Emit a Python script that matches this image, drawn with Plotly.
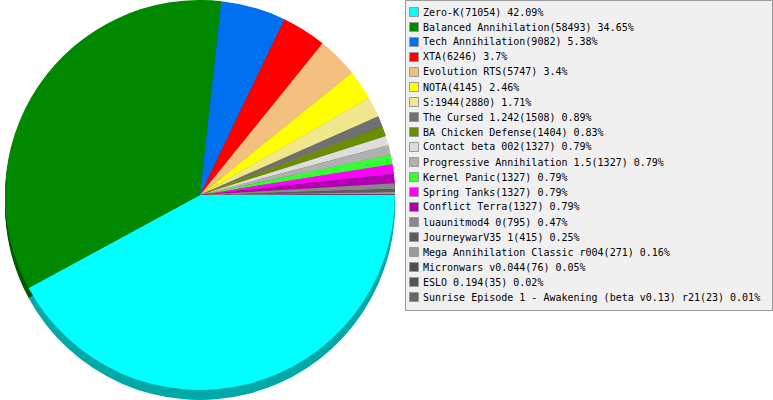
import plotly.graph_objects as go

W, H = 773, 400

names = ["Zero-K", "Balanced Annihilation", "Tech Annihilation", "XTA", "Evolution RTS",
         "NOTA", "S:1944", "The Cursed 1.242", "BA Chicken Defense", "Contact beta 002",
         "Progressive Annihilation 1.5", "Kernel Panic", "Spring Tanks", "Conflict Terra",
         "luaunitmod4 0", "JourneywarV35 1", "Mega Annihilation Classic r004",
         "Micronwars v0.044", "ESLO 0.194", "Sunrise Episode 1 - Awakening (beta v0.13) r21"]
values = [71054, 58493, 9082, 6246, 5747, 4145, 2880, 1508, 1404, 1327,
          1327, 1327, 1327, 1327, 795, 415, 271, 76, 35, 23]
pcts = ["42.09", "34.65", "5.38", "3.7", "3.4", "2.46", "1.71", "0.89", "0.83", "0.79",
        "0.79", "0.79", "0.79", "0.79", "0.47", "0.25", "0.16", "0.05", "0.02", "0.01"]
colors = ["#00FFFF", "#008800", "#0070F0", "#FF0000", "#F4C080", "#FFFF00", "#F0E68C",
          "#707070", "#6B8E00", "#DDDDDD", "#B0B0B0", "#33FF33", "#FF00FF", "#B000B0",
          "#888888", "#5E5E5E", "#999999", "#505050", "#555555", "#666666"]

labels = [f"{n}({v}) {p}%" for n, v, p in zip(names, values, pcts)]


def darken(hexc, f=0.66):
    r, g, b = int(hexc[1:3], 16), int(hexc[3:5], 16), int(hexc[5:7], 16)
    return "#%02X%02X%02X" % (int(r * f), int(g * f), int(b * f))


dark = [darken(c) for c in colors]

fig = go.Figure()

DIAM = 390
X0 = 5
for d in [2, 4, 6, 8, 10]:
    fig.add_trace(go.Pie(
        labels=["s%d-%s" % (d, l) for l in labels], values=values,
        marker=dict(colors=dark, line=dict(width=0)),
        sort=False, direction="clockwise", rotation=90,
        textinfo="none", hoverinfo="skip", showlegend=False,
        domain=dict(x=[X0 / W, (X0 + DIAM) / W], y=[1 - (DIAM + d) / H, 1 - d / H]),
    ))

fig.add_trace(go.Pie(
    labels=labels, values=values,
    marker=dict(colors=colors, line=dict(width=0)),
    sort=False, direction="clockwise", rotation=90,
    textinfo="none", showlegend=False,
    domain=dict(x=[X0 / W, (X0 + DIAM) / W], y=[1 - DIAM / H, 1]),
))

shapes = [dict(type="rect", xref="paper", yref="paper",
               x0=405.5 / W, x1=772.5 / W, y0=1 - 0.5 / H, y1=1 - 310.5 / H,
               fillcolor="#F0F0F0", line=dict(color="#999999", width=1), layer="below")]
annotations = []
for i, (lab, col) in enumerate(zip(labels, colors)):
    cy = 12 + 15 * i
    shapes.append(dict(type="rect", xref="paper", yref="paper",
                       x0=409.5 / W, x1=418.5 / W, y0=1 - (cy - 4.5) / H, y1=1 - (cy + 4.5) / H,
                       fillcolor=col, line=dict(color="#999999", width=1)))
    annotations.append(dict(xref="paper", yref="paper", x=421 / W, y=1 - cy / H,
                            xanchor="left", yanchor="middle", showarrow=False, text=lab,
                            font=dict(family="DejaVu Sans Mono", size=10, color="#000000")))

fig.update_layout(
    width=W, height=H, margin=dict(l=0, r=0, t=0, b=0),
    paper_bgcolor="#FFFFFF", plot_bgcolor="#FFFFFF",
    showlegend=False, shapes=shapes, annotations=annotations,
)

fig.write_html("out.html", config={"displayModeBar": False},
               post_script="document.body.style.margin='0';document.body.style.overflow='hidden';")
